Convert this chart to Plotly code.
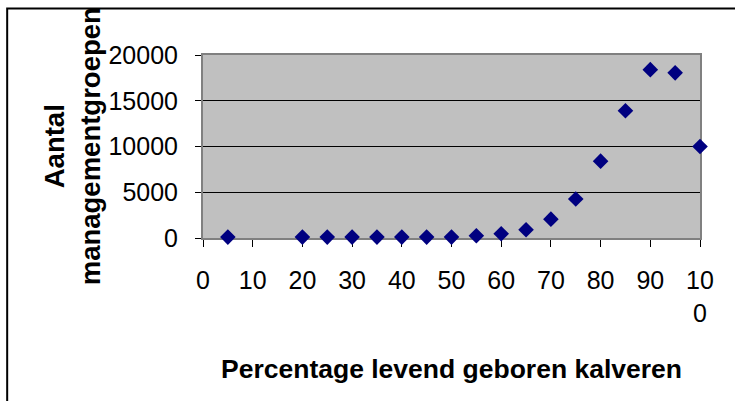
import plotly.graph_objects as go

# Percentage of calves born alive per class, and number of management groups
pct_levend = [5, 20, 25, 30, 35, 40, 45, 50, 55, 60, 65, 70, 75, 80, 85, 90, 95, 100]
aantal_groepen = [100, 100, 100, 100, 100, 100, 100, 100, 250, 470, 900, 2060,
                  4270, 8400, 13900, 18400, 18050, 10000]

x_tickvals = [0, 10, 20, 30, 40, 50, 60, 70, 80, 90, 100]
x_ticktext = ["0", "10", "20", "30", "40", "50", "60", "70", "80", "90", "10<br>0"]
y_tickvals = [0, 5000, 10000, 15000, 20000]

FONT = "Liberation Sans, Arial, sans-serif"

fig = go.Figure()
fig.add_trace(go.Scatter(
    x=pct_levend, y=aantal_groepen, mode="markers",
    marker=dict(symbol="diamond", size=12, color="#000080", line=dict(width=0)),
    cliponaxis=False, showlegend=False,
))

fig.update_layout(
    width=735, height=401,
    margin=dict(l=203, r=35, t=55, b=163),
    paper_bgcolor="white", plot_bgcolor="#C0C0C0",
    font=dict(family=FONT, size=25, color="black"),
    xaxis=dict(
        range=[0, 100], tickvals=x_tickvals, ticktext=x_ticktext,
        ticks="outside", ticklen=7, tickwidth=1, tickcolor="black",
        showgrid=False, zeroline=False,
        showline=True, mirror=True, linecolor="#808080", linewidth=2,
        layer="below traces", ticklabelstandoff=12,
    ),
    yaxis=dict(
        range=[0, 20000], tickvals=y_tickvals, tickformat="d",
        ticks="outside", ticklen=6, tickwidth=1, tickcolor="black",
        showgrid=True, gridcolor="black", gridwidth=1, zeroline=False,
        showline=True, mirror=True, linecolor="#808080", linewidth=2,
        layer="below traces", ticklabelstandoff=12,
    ),
)

# Axis titles
fig.add_annotation(
    text="<b>Percentage levend geboren kalveren</b>",
    xref="paper", yref="paper", x=0.5, y=-0.716,
    xanchor="center", yanchor="middle", showarrow=False,
    font=dict(family=FONT, size=26.5, color="black"),
)
fig.add_annotation(
    text="<b>Aantal<br>managementgroepen</b>",
    xref="paper", yref="paper", x=-0.262, y=0.5,
    xanchor="center", yanchor="middle", textangle=-90, showarrow=False,
    font=dict(family=FONT, size=27.5, color="black"),
)

# Chart frame (left and top edges fall inside the page)
fig.add_shape(
    type="rect", xref="paper", yref="paper",
    x0=-0.394, y0=-0.92, x1=1.1, y1=1.254,
    line=dict(color="black", width=2), fillcolor="rgba(0,0,0,0)",
)

fig.write_html("out.html")
